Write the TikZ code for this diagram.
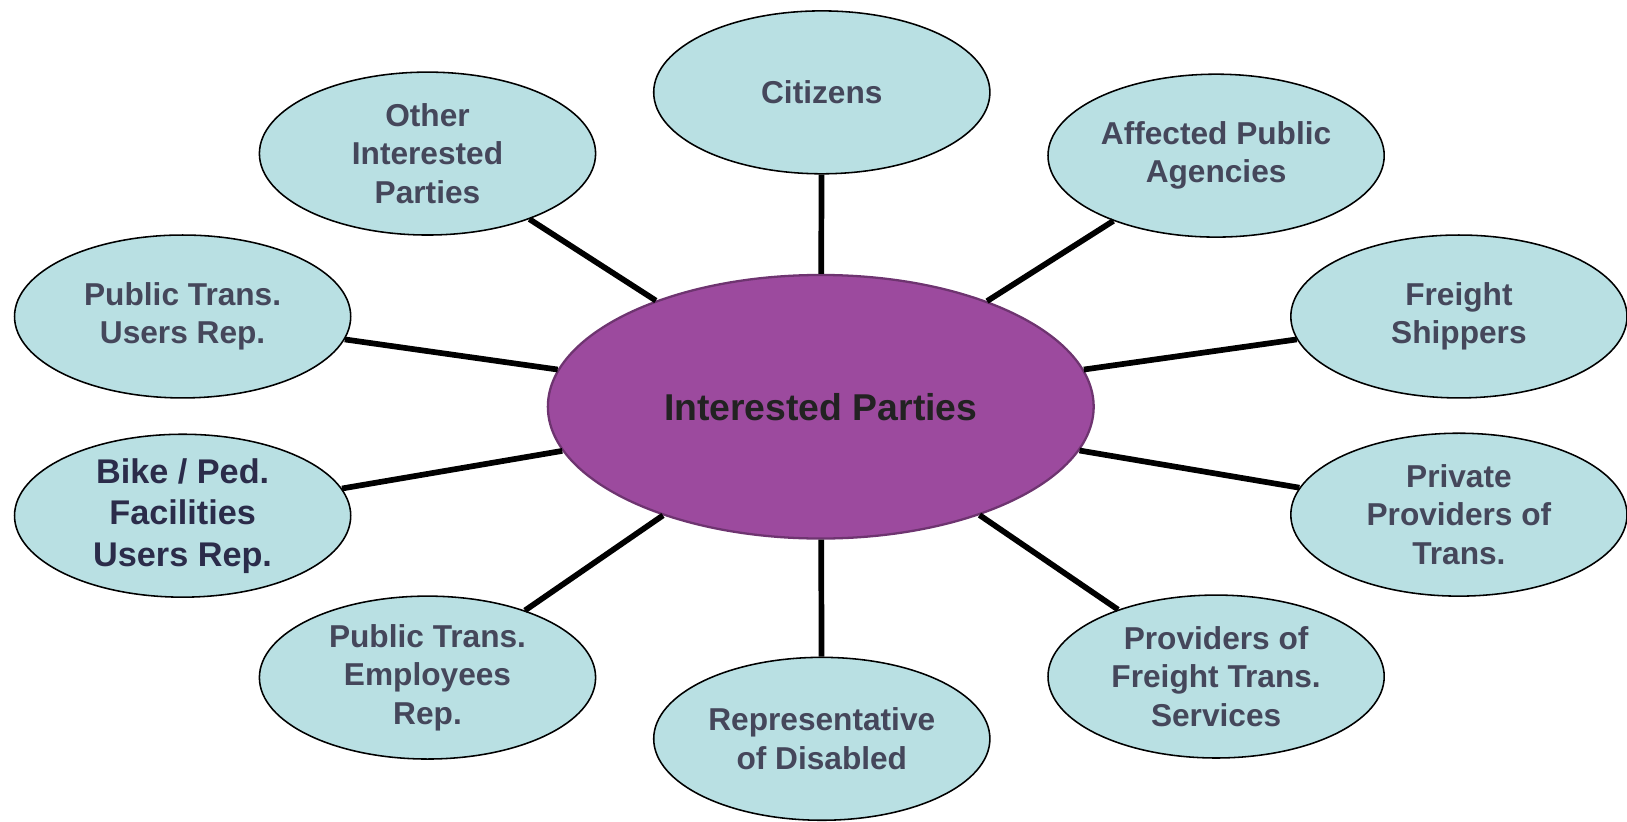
\documentclass[tikz,border=0pt]{standalone}
\usepackage{fontspec}
\setmainfont{Liberation Sans}
\usetikzlibrary{shapes.geometric}
\definecolor{outerfill}{HTML}{B9E0E3}
\definecolor{outertext}{HTML}{45475B}
\definecolor{darktext}{HTML}{2B2C4A}
\definecolor{hubfill}{HTML}{9C4A9E}
\definecolor{hubdraw}{HTML}{6E3470}
\definecolor{hubtext}{HTML}{222222}
\tikzset{
  party/.style={ellipse, draw=black, line width=1.5pt, fill=outerfill,
    minimum width=324pt, minimum height=157pt, inner sep=0pt, align=center,
    text=outertext, font=\bfseries\fontsize{30.5}{37}\selectfont},
  hub/.style={ellipse, draw=hubdraw, line width=2.2pt, fill=hubfill,
    minimum width=526pt, minimum height=254pt, inner sep=0pt, align=center,
    text=hubtext, font=\bfseries\fontsize{36}{42}\selectfont},
  spoke/.style={line width=5.5pt, black}
}
\begin{document}
\begin{tikzpicture}[x=1pt,y=-1pt]
\useasboundingbox (0,0) rectangle (1568,792);
\node[hub] (c) at (791,392) {Interested Parties};
\node[party] (cit) at (792,89) {Citizens};
\node[party] (apa) at (1172,150) {Affected Public\\Agencies};
\node[party] (fs) at (1406,305) {Freight\\Shippers};
\node[party] (ppt) at (1406,496) {Private\\Providers of\\Trans.};
\node[party] (pft) at (1172,652) {Providers of\\Freight Trans.\\Services};
\node[party] (rod) at (792,712) {Representative\\of Disabled};
\node[party] (pte) at (412,653) {Public Trans.\\Employees\\Rep.};
\node[party, text=darktext, font=\bfseries\fontsize{33}{40}\selectfont] (bp) at (176,497) {Bike / Ped.\\Facilities\\Users Rep.};
\node[party] (ptu) at (176,305) {Public Trans.\\Users Rep.};
\node[party] (oip) at (412,148) {Other\\Interested\\Parties};
\foreach \n in {cit,apa,fs,ppt,pft,rod,pte,bp,ptu,oip}{
  \draw[spoke] (c) -- (\n);
}
\end{tikzpicture}
\end{document}
